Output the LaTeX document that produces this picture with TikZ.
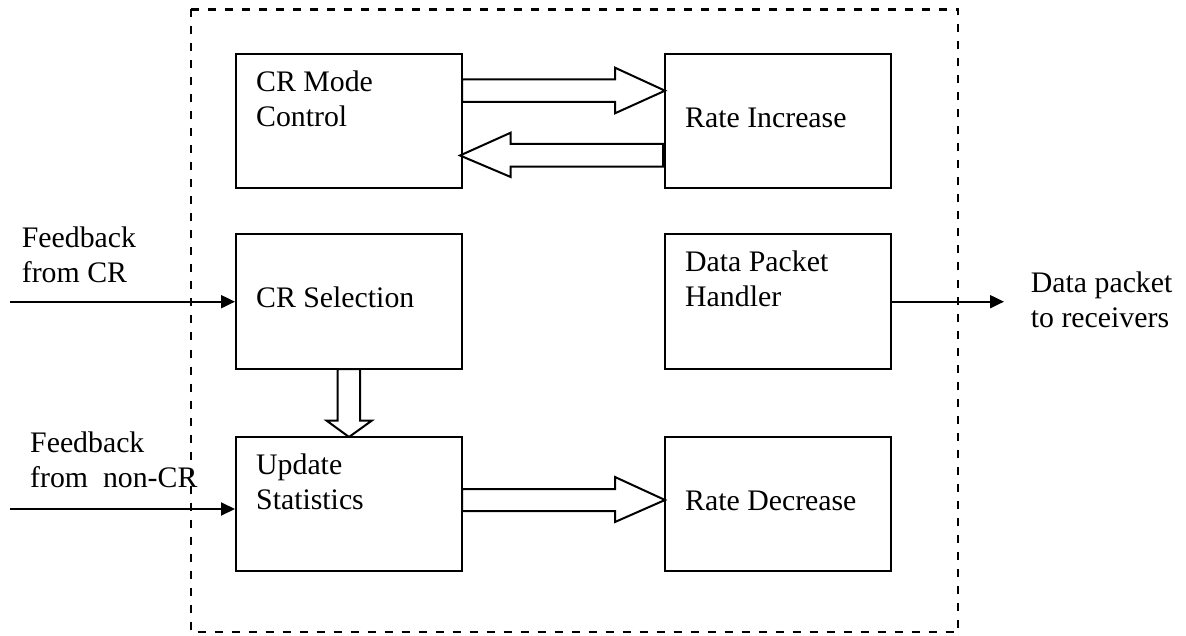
\documentclass[tikz,border=0pt]{standalone}
\usepackage{fontspec}
\setmainfont{Liberation Serif}
\usetikzlibrary{arrows.meta}
\begin{document}
\begin{tikzpicture}[x=1pt,y=-1pt,
  blockbox/.style={draw, line width=2pt, minimum width=226pt, minimum height=134pt, inner sep=0pt},
  lbl/.style={anchor=base west, inner sep=0pt, font=\fontsize{29.8}{35}\selectfont, align=left},
  fat/.style={draw, line width=2pt, fill=white, line join=miter},
  thin/.style={line width=2pt, -{Triangle[length=14pt,width=13pt]}},
  frame/.style={line width=2.5pt, dash pattern=on 8pt off 9pt}
]
\useasboundingbox (0,0) rectangle (1186,636);

% enclosing dashed boundary
\draw[frame] (191,9.5) rectangle (958,632);

% functional blocks
\node[blockbox] (cmc) at (349,121) {};
\node[blockbox] (ri)  at (777.5,121) {};
\node[blockbox] (crs) at (349,301.5) {};
\node[blockbox] (dph) at (777.5,301.5) {};
\node[blockbox] (ups) at (349,504) {};
\node[blockbox] (rd)  at (777.5,504) {};

% block labels (base = baseline of the last line)
\node[lbl] (tcmc) at (256,126.7) {CR Mode\\Control};
\node[lbl] (tri)  at (685,127.3) {Rate Increase};
\node[lbl] (tcrs) at (256,307.3) {CR Selection};
\node[lbl] (tdph) at (685,306.7) {Data Packet\\Handler};
\node[lbl] (tups) at (256,509.5) {Update\\Statistics};
\node[lbl] (trd)  at (685,510) {Rate Decrease};

% wide arrows between blocks
\draw[fat] (462,79.3) -- (615,79.3) -- (615,67.7) -- (665,90.7) -- (615,113.3) -- (615,102) -- (462,102) -- cycle;
\draw[fat] (663,144) -- (510.7,144) -- (510.7,132.7) -- (460,155.5) -- (510.7,177) -- (510.7,166.7) -- (663,166.7) -- cycle;
\draw[fat] (337.7,369) -- (337.7,420.7) -- (326.7,420.7) -- (349,437) -- (371.7,420.7) -- (360,420.7) -- (360,369) -- cycle;
\draw[fat] (462,489) -- (615,489) -- (615,477) -- (665,500) -- (615,522) -- (615,511) -- (462,511) -- cycle;

% inputs and output
\coordinate (fbcr) at (10,301.7);
\coordinate (fbncr) at (10,509);
\coordinate (out) at (1004,301.7);
\draw[thin] (fbcr) -- (fbcr -| crs.west);
\draw[thin] (fbncr) -- (fbncr -| ups.west);
\draw[thin] (dph.east |- out) -- (out);

\node[lbl] (tfbcr)  at (21.7,283) {Feedback\\from CR};
\node[lbl] (tfbncr) at (30,487) {Feedback\\from\ \ non-CR};
\node[lbl] (tout)   at (1030.7,327) {Data packet\\to receivers};
\end{tikzpicture}
\end{document}
